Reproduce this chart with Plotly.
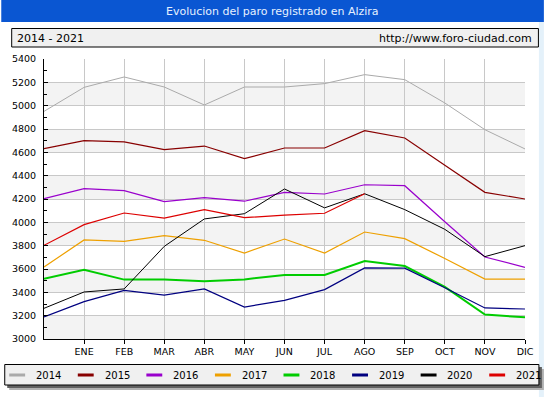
import plotly.graph_objects as go

# ---------------- data ----------------
years = ["2014", "2015", "2016", "2017", "2018", "2019", "2020", "2021"]
month_labels = ["ENE", "FEB", "MAR", "ABR", "MAY", "JUN", "JUL", "AGO", "SEP", "OCT", "NOV", "DIC"]

y2014 = [4951, 5157, 5246, 5160, 5006, 5160, 5160, 5189, 5266, 5223, 5023, 4794, 4629]
y2015 = [4631, 4700, 4689, 4623, 4654, 4546, 4637, 4637, 4786, 4723, 4489, 4257, 4200]
y2016 = [4203, 4289, 4271, 4177, 4211, 4181, 4257, 4243, 4322, 4314, 4005, 3703, 3614]
y2017 = [3617, 3849, 3837, 3886, 3846, 3737, 3857, 3737, 3917, 3860, 3690, 3514, 3514]
y2018 = [3517, 3594, 3509, 3509, 3494, 3511, 3549, 3549, 3669, 3625, 3446, 3209, 3186]
y2019 = [3189, 3320, 3417, 3377, 3429, 3274, 3331, 3423, 3609, 3607, 3440, 3266, 3257]
y2020 = [3263, 3403, 3429, 3794, 4029, 4074, 4286, 4124, 4245, 4109, 3940, 3706, 3800]
y2021 = [3803, 3980, 4080, 4037, 4109, 4040, 4062, 4078, 4245]

series = [y2014, y2015, y2016, y2017, y2018, y2019, y2020, y2021]
colors = ["#aaaaaa", "#880000", "#9900cc", "#eea000", "#00cc00", "#000080", "#000000", "#dd0000"]
widths = [1, 1.2, 1.2, 1.2, 2, 1.2, 1, 1.2]

# ---------------- geometry ----------------
FW, FH = 546, 397
L, R, T, B = 43, 19, 59, 58
W, H = FW - L - R, FH - T - B


def fx(px):
    return (px - L) / W


def fy(py):
    return (FH - B - py) / H


FONT = "DejaVu Sans"

fig = go.Figure()
for name, vals, col, w in zip(years, series, colors, widths):
    fig.add_trace(go.Scatter(
        x=list(range(len(vals))), y=vals, mode="lines", name=name,
        line=dict(color=col, width=w), showlegend=False, hoverinfo="skip"))

shapes = []
annotations = []

# alternating horizontal bands
for lo in range(3000, 5400, 400):
    shapes.append(dict(type="rect", xref="paper", yref="y", x0=0, x1=1, y0=lo, y1=lo + 200,
                       fillcolor="#f3f3f3", line=dict(width=0), layer="below"))

# title bar
shapes.append(dict(type="rect", xref="paper", yref="paper", x0=fx(0), x1=fx(FW), y0=fy(22), y1=fy(0),
                   fillcolor="#0a56d2", line=dict(width=0), layer="below"))
annotations.append(dict(xref="paper", yref="paper", x=fx(FW / 2), y=fy(11.5), text="Evolucion del paro registrado en Alzira",
                        showarrow=False, xanchor="center", yanchor="middle",
                        font=dict(family=FONT, size=11, color="#e6f0ff")))

# right light-blue strip
shapes.append(dict(type="rect", xref="paper", yref="paper", x0=fx(541), x1=fx(FW), y0=fy(FH), y1=fy(22),
                   fillcolor="#e4f1fa", line=dict(width=0), layer="below"))

# header box
shapes.append(dict(type="rect", xref="paper", yref="paper", x0=fx(10.5), x1=fx(540.5), y0=fy(47), y1=fy(28.5),
                   fillcolor="#f0f0f0", line=dict(color="#000000", width=1), layer="below"))
annotations.append(dict(xref="paper", yref="paper", x=fx(14), y=fy(38), text="2014 - 2021",
                        showarrow=False, xanchor="left", yanchor="middle",
                        font=dict(family=FONT, size=11, color="#000000")))
annotations.append(dict(xref="paper", yref="paper", x=fx(536), y=fy(38), text="http://www.foro-ciudad.com",
                        showarrow=False, xanchor="right", yanchor="middle",
                        font=dict(family=FONT, size=11, color="#000000")))

# legend box with shadow
shapes.append(dict(type="rect", xref="paper", yref="paper", x0=fx(8), x1=fx(546), y0=fy(390), y1=fy(369),
                   fillcolor="#b0b0b0", line=dict(width=0), layer="below"))
shapes.append(dict(type="rect", xref="paper", yref="paper", x0=fx(6), x1=fx(544), y0=fy(388), y1=fy(367),
                   fillcolor="#606060", line=dict(width=0), layer="below"))
shapes.append(dict(type="rect", xref="paper", yref="paper", x0=fx(3.5), x1=fx(541), y0=fy(385), y1=fy(364.5),
                   fillcolor="#f0f0f0", line=dict(color="#000000", width=1), layer="below"))
for i, (name, col) in enumerate(zip(years, colors)):
    tx = 33 + 69 * i
    shapes.append(dict(type="line", xref="paper", yref="paper", x0=fx(tx - 25), x1=fx(tx - 9),
                       y0=fy(375), y1=fy(375), line=dict(color=col, width=3), layer="above"))
    annotations.append(dict(xref="paper", yref="paper", x=fx(tx), y=fy(375), text=name,
                            showarrow=False, xanchor="left", yanchor="middle",
                            font=dict(family=FONT, size=10, color="#000000")))

fig.update_layout(
    width=FW, height=FH,
    margin=dict(l=L, r=R, t=T, b=B, pad=0),
    paper_bgcolor="#ffffff", plot_bgcolor="#ffffff",
    shapes=shapes, annotations=annotations,
    showlegend=False,
    xaxis=dict(range=[0, 12], tickvals=list(range(1, 13)), ticktext=month_labels,
               showgrid=True, gridcolor="#c8c8c8", gridwidth=1, zeroline=False,
               showline=True, linecolor="#000000", linewidth=1,
               ticks="outside", ticklen=4, tickcolor="#000000",
               tickfont=dict(family=FONT, size=9.5, color="#000000")),
    yaxis=dict(range=[3000, 5400], tick0=3000, dtick=200,
               showgrid=True, gridcolor="#c8c8c8", gridwidth=1, zeroline=False,
               showline=True, linecolor="#000000", linewidth=1,
               ticks="inside", ticklen=4, tickcolor="#000000",
               minor=dict(dtick=100, ticks="inside", ticklen=3, tickcolor="#000000", showgrid=False),
               ticklabelstandoff=5,
               tickfont=dict(family=FONT, size=9.5, color="#000000")),
)

fig.write_html(
    "out.html",
    config={"displayModeBar": False},
    post_script="document.body.style.margin='0';document.body.style.padding='0';document.body.style.overflow='hidden';",
)
